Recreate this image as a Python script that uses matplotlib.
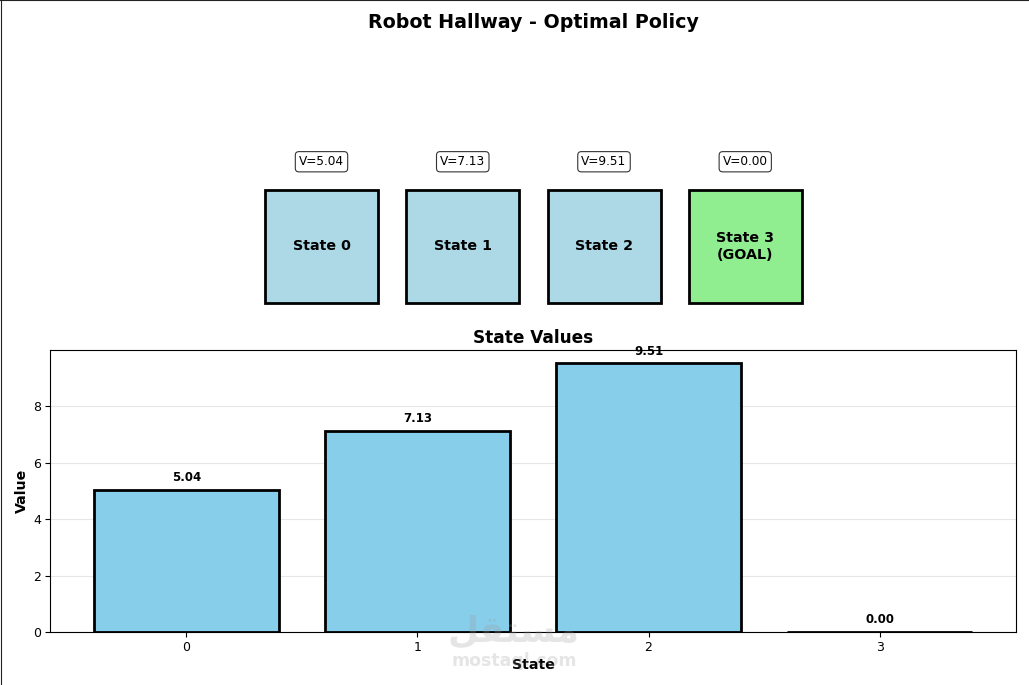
"""Robot hallway: policy boxes on top, state value bars below."""
import matplotlib
matplotlib.use('Agg')
import matplotlib.pyplot as plt
from matplotlib.lines import Line2D
from matplotlib.patches import Rectangle

FIG_W, FIG_H = 1029, 685

states = [0, 1, 2, 3]
values = [5.04, 7.13, 9.51, 0.00]
box_labels = ['State 0', 'State 1', 'State 2', 'State 3\n(GOAL)']
box_colors = ['lightblue', 'lightblue', 'lightblue', 'lightgreen']


def px_axes(fig, left, top, right, bottom):
    """axes from pixel edges, y counted from the top of the picture"""
    return fig.add_axes([left / FIG_W, 1 - bottom / FIG_H,
                         (right - left) / FIG_W, (bottom - top) / FIG_H])


def main():
    fig = plt.figure(figsize=(FIG_W / 100, FIG_H / 100), dpi=100, facecolor='white')

    # top panel, 1 data unit = 113 px
    ax_top = px_axes(fig, 0, 0, FIG_W, 320)
    ax_top.set_xlim(-265 / 113, (FIG_W - 265) / 113)
    ax_top.set_ylim(-17 / 113, 303 / 113)
    ax_top.axis('off')
    for i, state in enumerate(states):
        x = i * 1.25
        ax_top.add_patch(Rectangle((x, 0), 1, 1, facecolor=box_colors[i],
                                   edgecolor='black', linewidth=2))
        ax_top.text(x + 0.5, 0.5, box_labels[i], ha='center', va='center',
                    fontsize=10.3, fontweight='bold')
        ax_top.text(x + 0.5, 1.25, f'V={values[state]:.2f}', ha='center', va='center',
                    fontsize=8.7,
                    bbox=dict(boxstyle='round', facecolor='white', edgecolor='#333333',
                              linewidth=0.8))
    fig.text(533 / FIG_W, 1 - 22 / FIG_H, 'Robot Hallway - Optimal Policy',
             ha='center', va='center', fontsize=13.7, fontweight='bold')

    # bottom panel
    ax = px_axes(fig, 50, 350, 1016, 632)
    bars = ax.bar(states, values, color='skyblue', edgecolor='black', linewidth=2)
    for bar, val in zip(bars, values):
        ax.text(bar.get_x() + bar.get_width() / 2, val + 0.2, f'{val:.2f}',
                ha='center', va='bottom', fontsize=8.5, fontweight='bold')
    ax.set_xticks(states)
    ax.set_yticks([0, 2, 4, 6, 8])
    ax.tick_params(labelsize=9, pad=3)
    ax.grid(axis='y', alpha=0.3)
    ax.set_axisbelow(True)
    ax.set_xlabel('State', fontsize=10.2, fontweight='bold', labelpad=3)
    ax.set_ylabel('Value', fontsize=10.2, fontweight='bold', labelpad=3)
    ax.set_title('State Values', fontsize=12.2, fontweight='bold', pad=5)

    # stray frame on the top and left picture edges
    fig.add_artist(Line2D([0, 1], [0.9993, 0.9993], color='#222222', linewidth=0.8))
    fig.add_artist(Line2D([0.0005, 0.0005], [0, 1], color='#222222', linewidth=0.8))

    # watermark
    fig.text(514 / FIG_W, 1 - 631 / FIG_H, '\ufede\ufed8\ufe98\ufeb4\ufee3',
             ha='center', va='center', fontsize=26, fontweight='bold',
             family='DejaVu Sans', color='#999999', alpha=0.25, zorder=10)
    fig.text(514 / FIG_W, 1 - 661 / FIG_H, 'mostaql.com',
             ha='center', va='center', fontsize=12.5, fontweight='bold',
             family='DejaVu Sans', color='#999999', alpha=0.25, zorder=1)

    fig.savefig('out.png', dpi=100, facecolor='white')


if __name__ == '__main__':
    main()
